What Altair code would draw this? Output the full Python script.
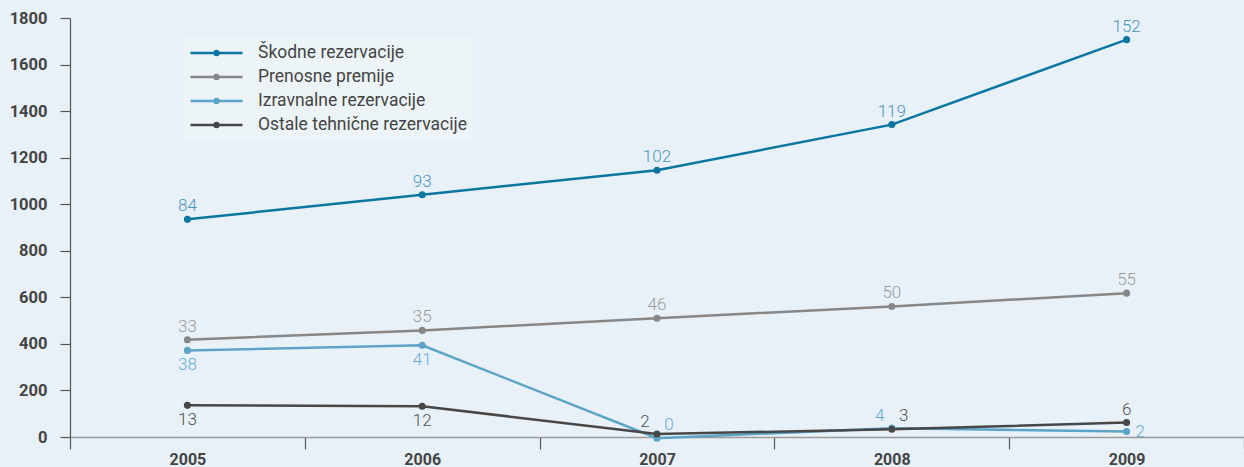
import altair as alt
import pandas as pd

years = ["2005", "2006", "2007", "2008", "2009"]
series = ["Škodne rezervacije", "Prenosne premije", "Izravnalne rezervacije", "Ostale tehnične rezervacije"]

skodne = [935, 1041, 1146, 1342, 1707]
prenosne = [418, 458, 510, 561, 618]
izravnalne = [372, 394, -5, 38, 24]
ostale = [136, 132, 13, 33, 62]

skodne_lbl = ["84", "93", "102", "119", "152"]
prenosne_lbl = ["33", "35", "46", "50", "55"]
izravnalne_lbl = ["38", "41", "0", "4", "2"]
ostale_lbl = ["13", "12", "2", "3", "6"]

line_colors = ["#0b77a1", "#878787", "#5ca3c8", "#474747"]
label_colors = ["#4a94bd", "#9a9a9a", "#67abd0", "#505050"]

# label placement (style)
placement = {
    ("Izravnalne rezervacije", "2005"): "below",
    ("Izravnalne rezervacije", "2006"): "below",
    ("Izravnalne rezervacije", "2007"): "right-above",
    ("Izravnalne rezervacije", "2008"): "left-above",
    ("Izravnalne rezervacije", "2009"): "right",
    ("Ostale tehnične rezervacije", "2005"): "below",
    ("Ostale tehnične rezervacije", "2006"): "below",
    ("Ostale tehnične rezervacije", "2007"): "left-above",
    ("Ostale tehnične rezervacije", "2008"): "right-above",
}
offsets = {
    "above": dict(align="center", baseline="alphabetic", dx=0, dy=-8),
    "below": dict(align="center", baseline="alphabetic", dx=0, dy=20),
    "right-above": dict(align="center", baseline="alphabetic", dx=12, dy=-8),
    "left-above": dict(align="center", baseline="alphabetic", dx=-12, dy=-7),
    "right": dict(align="left", baseline="middle", dx=9, dy=1),
}

rows = []
for s, vals, lbls in zip(series, [skodne, prenosne, izravnalne, ostale],
                         [skodne_lbl, prenosne_lbl, izravnalne_lbl, ostale_lbl]):
    for y, v, l in zip(years, vals, lbls):
        rows.append({"year": y, "series": s, "value": v, "label": l,
                     "place": placement.get((s, y), "above")})
df = pd.DataFrame(rows)

FONT = "Roboto"
x_enc = alt.X("year:O", title=None,
              scale=alt.Scale(type="band", paddingInner=0, paddingOuter=0),
              axis=alt.Axis(labelAngle=0, tickBand="extent", tickSize=12, tickColor="#555555",
                            tickWidth=1.2, domainColor="#9a9a9a", domainWidth=1.6,
                            labelFont=FONT, labelFontWeight="bold", labelFontSize=16,
                            labelColor="#444444", labelPadding=2, grid=False))
y_enc = alt.Y("value:Q", title=None,
              scale=alt.Scale(domain=[0, 1800], nice=False, zero=False),
              axis=alt.Axis(values=list(range(0, 1801, 200)), format="d", tickSize=10,
                            tickColor="#555555", tickWidth=1.2, domainColor="#555555",
                            domainWidth=1.2, labelFont=FONT, labelFontWeight="bold",
                            labelFontSize=16.5, labelColor="#444444", labelPadding=13,
                            grid=False))

SYMBOL = ("M-1,0H1M0.075,0A0.075,0.075,0,1,1,-0.075,0A0.075,0.075,0,1,1,0.075,0"
          "M0.03,0A0.03,0.03,0,1,1,-0.03,0A0.03,0.03,0,1,1,0.03,0")

base = alt.Chart(df)
lines = base.mark_line(strokeWidth=2.5, point=alt.OverlayMarkDef(filled=True, size=50, opacity=1)).encode(
    x=x_enc, y=y_enc,
    color=alt.Color("series:N", sort=series,
                    scale=alt.Scale(domain=series, range=line_colors),
                    legend=alt.Legend(title=None, orient="none", legendX=113, legendY=19,
                                      symbolType=SYMBOL, symbolSize=2704, symbolStrokeWidth=2.5,
                                      clipHeight=20, rowPadding=4, labelFont=FONT,
                                      labelFontSize=17.5, labelColor="#444444", labelOffset=14,
                                      fillColor="#edf4f7", padding=6, labelLimit=400)),
)

text_layers = []
for s, col in zip(series, label_colors):
    for p, o in offsets.items():
        sub = df[(df["series"] == s) & (df["place"] == p)]
        if len(sub) == 0:
            continue
        text_layers.append(
            alt.Chart(sub).mark_text(font=FONT, fontWeight=300, fontSize=17, color=col, **o)
            .encode(x=x_enc, y=y_enc, text="label:N")
        )

chart = alt.layer(lines, *text_layers).properties(
    width=1174, height=419,
    autosize=alt.AutoSizeParams(type="none"),
    padding={"left": 70, "top": 18, "right": 0, "bottom": 30},
    background="#e9f1f8",
).configure_view(stroke=None)

chart.save("out.html", embed_options={"renderer": "svg", "actions": False})
